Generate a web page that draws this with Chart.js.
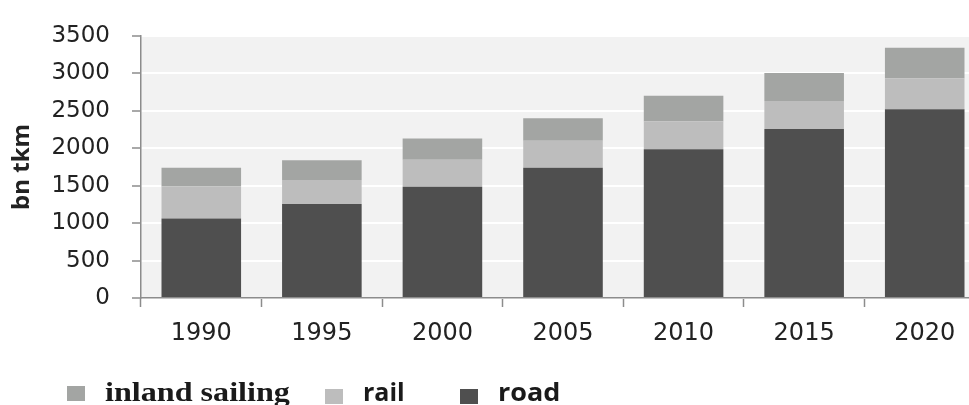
<!DOCTYPE html>
<html>
<head>
<meta charset="utf-8">
<title>Freight transport, bn tkm</title>
<script src="https://cdn.jsdelivr.net/npm/chart.js@4.4.1/dist/chart.umd.min.js"></script>
<style>
    html, body { margin: 0; padding: 0; background: #fff; overflow: hidden; }
    #wrap { position: relative; width: 1000px; height: 405px; }
    #legend {
        position: absolute; left: 0; top: 374px; width: 1000px;
        white-space: nowrap; line-height: 28px;
        font-family: "Open Sans", sans-serif; font-size: 25px; font-weight: bold; color: #1a1a1a;
    }
    #legend .item { position: absolute; top: 0; }
    #legend .box { display: inline-block; width: 18px; height: 15px; vertical-align: -3px; }
    #legend .label { display: inline-block; position: relative; transform-origin: left center; }
</style>
</head>
<body>
<div id="wrap">
    <canvas id="myChart" width="1000" height="405"></canvas>
    <div id="legend"></div>
</div>
<script>
// data (bn tkm)
const years = ['1990', '1995', '2000', '2005', '2010', '2015', '2020'];
const road = [1060, 1255, 1485, 1740, 1985, 2255, 2520];
const rail = [430, 320, 360, 360, 375, 375, 415];
const inlandSailing = [250, 265, 285, 300, 340, 375, 405];
const yMin = 0;
const yMax = 3500;
const yStep = 500;

// legend look (serif for the first entry, like the original)
const legendStyle = {
    'inland sailing': { left: 67, dy: 3, font: 'bold 27px "Liberation Serif", serif', stretch: 1.19 },
    'rail': { left: 325, dy: 0, font: 'bold 25px "Open Sans", sans-serif', stretch: 1 },
    'road': { left: 460, dy: 0, font: 'bold 25px "Open Sans", sans-serif', stretch: 1.08 }
};

const axisGrey = '#8c8c8c';

// grey plot area behind the bars
const plotBackground = {
    id: 'plotBackground',
    beforeDraw(chart) {
        const { ctx, chartArea } = chart;
        ctx.save();
        ctx.fillStyle = '#f2f2f2';
        ctx.fillRect(chartArea.left, chartArea.top, chartArea.width, chartArea.height);
        ctx.restore();
    }
};

function buildLegend(chart) {
    const legend = document.getElementById('legend');
    legend.innerHTML = '';
    // top of the stack first
    chart.data.datasets.slice().reverse().forEach(ds => {
        const st = legendStyle[ds.label];
        const item = document.createElement('span');
        item.className = 'item';
        item.style.left = st.left + 'px';
        const box = document.createElement('span');
        box.className = 'box';
        box.style.background = ds.backgroundColor;
        const text = document.createElement('span');
        text.className = 'label';
        text.textContent = ds.label;
        text.style.font = st.font;
        text.style.top = st.dy + 'px';
        text.style.marginLeft = '20px';
        text.style.transform = 'scaleX(' + st.stretch + ')';
        item.appendChild(box);
        item.appendChild(text);
        legend.appendChild(item);
    });
}

const ctx = document.getElementById('myChart').getContext('2d');
const chart = new Chart(ctx, {
    type: 'bar',
    data: {
        labels: years,
        datasets: [
            { label: 'road', data: road, backgroundColor: '#4f4f4f' },
            { label: 'rail', data: rail, backgroundColor: '#bdbdbd' },
            { label: 'inland sailing', data: inlandSailing, backgroundColor: '#a3a5a3' }
        ]
    },
    options: {
        responsive: false,
        animation: false,
        datasets: {
            bar: { barPercentage: 0.66, categoryPercentage: 1, borderWidth: 0 }
        },
        layout: {
            padding: { left: 0, right: 15, top: 24, bottom: 57 }
        },
        plugins: {
            legend: { display: false },
            tooltip: { enabled: false }
        },
        scales: {
            x: {
                stacked: true,
                grid: {
                    offset: true,
                    drawOnChartArea: false,
                    tickLength: 9,
                    tickColor: axisGrey,
                    tickWidth: 1.5
                },
                border: { color: axisGrey, width: 1.5 },
                ticks: {
                    color: '#222',
                    padding: 12,
                    font: { family: '"DejaVu Sans", sans-serif', size: 24 }
                },
                afterFit(scale) { scale.height = 50; }
            },
            y: {
                stacked: true,
                min: yMin,
                max: yMax,
                ticks: {
                    stepSize: yStep,
                    color: '#222',
                    padding: 22,
                    font: { family: '"DejaVu Sans", sans-serif', size: 23 },
                    callback: value => String(value)
                },
                grid: {
                    color: '#ffffff',
                    lineWidth: 2,
                    tickLength: 9,
                    tickColor: axisGrey,
                    tickWidth: 1.5
                },
                border: { color: axisGrey, width: 1.5 },
                title: {
                    display: true,
                    text: 'bn tkm',
                    color: '#222',
                    padding: { top: 8, bottom: 0 },
                    font: { family: '"Open Sans", sans-serif', size: 24, weight: 'bold' }
                },
                afterFit(scale) { scale.width = 141; }
            }
        }
    },
    plugins: [plotBackground]
});

buildLegend(chart);
</script>
</body>
</html>
